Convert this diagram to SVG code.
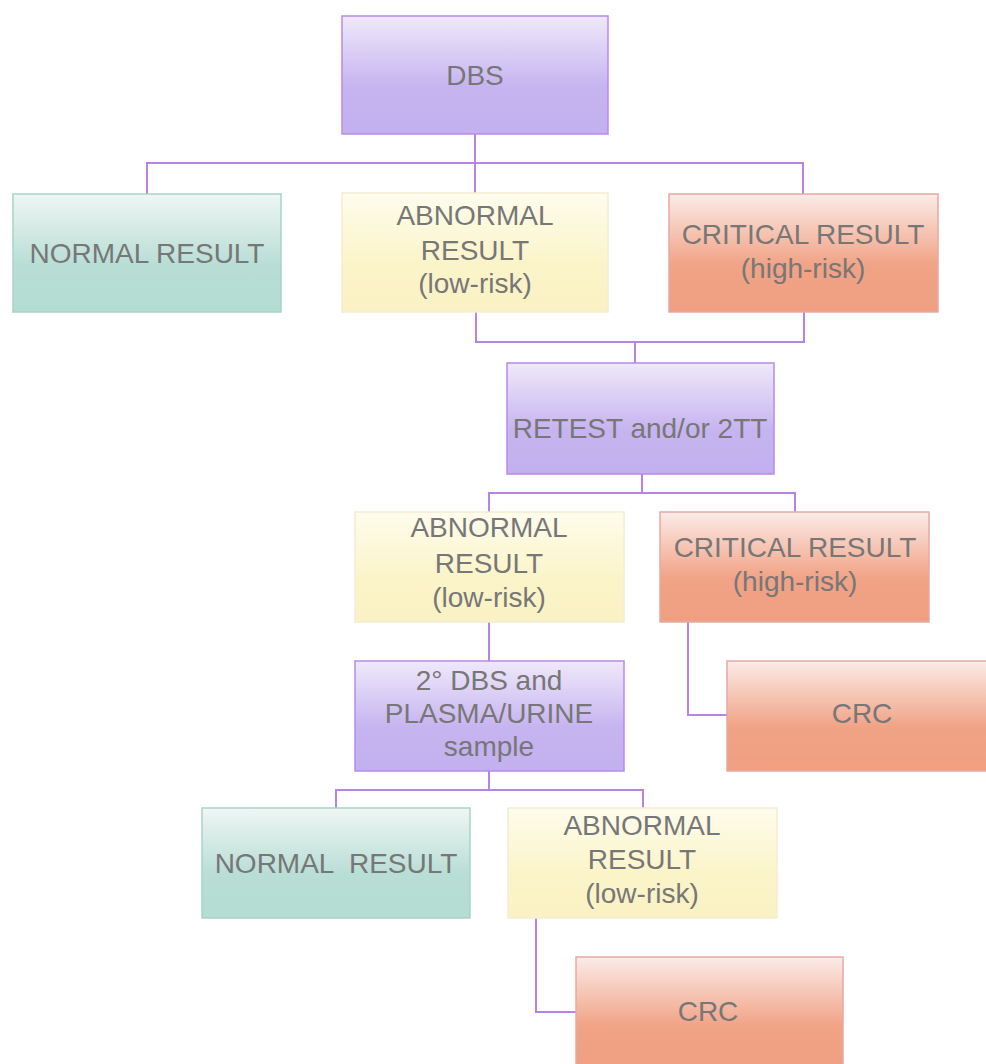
<svg xmlns="http://www.w3.org/2000/svg" width="986" height="1064" viewBox="0 0 986 1064">
<defs>
<linearGradient id="gPurple" x1="0" y1="0" x2="0" y2="1">
<stop offset="0" stop-color="#efe9fa"/><stop offset="0.6" stop-color="#c6b4f0"/><stop offset="1" stop-color="#c3b0ef"/>
</linearGradient>
<linearGradient id="gGreen" x1="0" y1="0" x2="0" y2="1">
<stop offset="0" stop-color="#eff6f4"/><stop offset="0.6" stop-color="#b8ded5"/><stop offset="1" stop-color="#b3dcd2"/>
</linearGradient>
<linearGradient id="gYellow" x1="0" y1="0" x2="0" y2="1">
<stop offset="0" stop-color="#fefcec"/><stop offset="0.6" stop-color="#fbf4c9"/><stop offset="1" stop-color="#faf2c4"/>
</linearGradient>
<linearGradient id="gOrange" x1="0" y1="0" x2="0" y2="1">
<stop offset="0" stop-color="#fbebe7"/><stop offset="0.6" stop-color="#f1a386"/><stop offset="1" stop-color="#f09f81"/>
</linearGradient>
<style>
.purple{fill:url(#gPurple);stroke:#b98be6;stroke-width:1.5}
.green{fill:url(#gGreen);stroke:#a8d3c9;stroke-width:1.5}
.yellow{fill:url(#gYellow);stroke:#f4ecd2;stroke-width:1.5}
.orange{fill:url(#gOrange);stroke:#e8a8a6;stroke-width:1.5}
text{font-family:"Liberation Sans",Arial,sans-serif;font-size:28px;fill:#777777;text-anchor:middle}
.conn{fill:none;stroke:#b883e6;stroke-width:2}
</style>
</defs>
<rect width="986" height="1064" fill="#ffffff"/>
<g id="connectors">
<path class="conn" d="M475 134 V163 M147 194 V163 H803 V194 M475 163 V193"/>
<path class="conn" d="M476 312 V342 H804 V312 M635 342 V363"/>
<path class="conn" d="M642 474 V493 M489 512 V493 H795 V512"/>
<path class="conn" d="M489 622 V661"/>
<path class="conn" d="M688 622 V715 H727"/>
<path class="conn" d="M489 771 V790 M336 808 V790 H643 V808"/>
<path class="conn" d="M536 918 V1012 H576"/>
</g>
<g id="n-dbs"><rect class="purple" x="342" y="16" width="266" height="118"/><text x="475" y="85">DBS</text></g>
<g id="n-normal1"><rect class="green" x="13" y="194" width="268" height="118"/><text x="147" y="263">NORMAL RESULT</text></g>
<g id="n-abnormal1"><rect class="yellow" x="342" y="193" width="266" height="119"/><text x="475" y="225">ABNORMAL</text><text x="475" y="260">RESULT</text><text x="475" y="293">(low-risk)</text></g>
<g id="n-critical1"><rect class="orange" x="669" y="194" width="269" height="118"/><text x="803" y="244">CRITICAL RESULT</text><text x="803" y="278">(high-risk)</text></g>
<g id="n-retest"><rect class="purple" x="507" y="363" width="267" height="111"/><text x="640" y="438">RETEST and/or 2TT</text></g>
<g id="n-abnormal2"><rect class="yellow" x="355" y="512" width="269" height="110"/><text x="489" y="537">ABNORMAL</text><text x="489" y="573">RESULT</text><text x="489" y="607">(low-risk)</text></g>
<g id="n-critical2"><rect class="orange" x="660" y="512" width="269" height="110"/><text x="795" y="557">CRITICAL RESULT</text><text x="795" y="591">(high-risk)</text></g>
<g id="n-dbs2"><rect class="purple" x="355" y="661" width="269" height="110"/><text x="489" y="690">2° DBS and</text><text x="489" y="723">PLASMA/URINE</text><text x="489" y="756">sample</text></g>
<g id="n-crc1"><rect class="orange" x="727" y="661" width="270" height="110"/><text x="862" y="723">CRC</text></g>
<g id="n-normal2"><rect class="green" x="202" y="808" width="268" height="110"/><text x="336" y="873" xml:space="preserve">NORMAL  RESULT</text></g>
<g id="n-abnormal3"><rect class="yellow" x="508" y="808" width="269" height="110"/><text x="642" y="835">ABNORMAL</text><text x="642" y="869">RESULT</text><text x="642" y="903">(low-risk)</text></g>
<g id="n-crc2"><rect class="orange" x="576" y="957" width="267" height="115"/><text x="708" y="1021">CRC</text></g>
</svg>
